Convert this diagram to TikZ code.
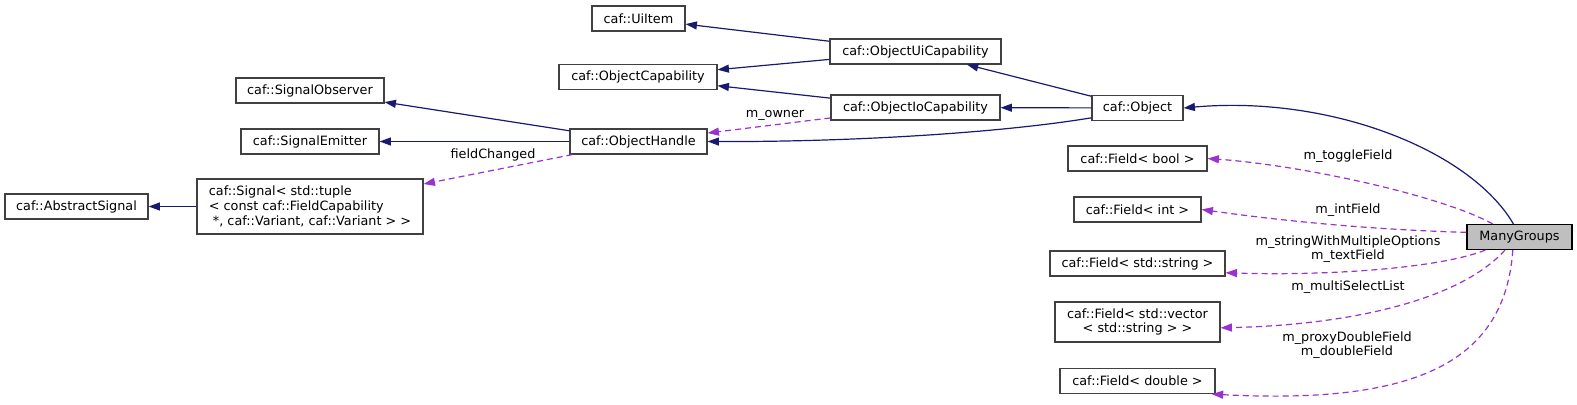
\documentclass[tikz,border=0pt]{standalone}
\usepackage{fontspec}
\setmainfont{DejaVu Sans}
\usetikzlibrary{arrows.meta}
\newcommand\pxu{0.75pt}
\definecolor{inhcol}{HTML}{191970}
\definecolor{usecol}{HTML}{9A32CD}
\definecolor{boxcol}{HTML}{404040}
\tikzset{
  cls/.style={draw=boxcol, line width=0.9pt, fill=white, font=\fontsize{9.6}{11}\selectfont,
    inner sep=0pt, minimum height=25*\pxu},
  inh/.style={draw=inhcol, line width=0.9pt, -{Triangle[length=8.5pt,width=6pt]}},
  use/.style={draw=usecol, line width=0.9pt, dash pattern=on 4.5pt off 3pt,
    -{Triangle[length=8.5pt,width=6pt]}},
  lbl/.style={font=\fontsize{9.6}{10.5}\selectfont, align=center, inner sep=0pt},
}

\begin{document}
\begin{tikzpicture}[x=\pxu, y=-\pxu]
  \useasboundingbox (0,0) rectangle (1577,404);
  \node[cls, minimum width=93*\pxu] (uiitem) at (638.5,18.5) {caf::UiItem};
  \node[cls, minimum width=171*\pxu] (oui) at (915.5,51.5) {caf::ObjectUiCapability};
  \node[cls, minimum width=158*\pxu] (ocap) at (638,77) {caf::ObjectCapability};
  \node[cls, minimum width=169*\pxu] (oio) at (915.5,107.5) {caf::ObjectIoCapability};
  \node[cls, minimum width=91*\pxu] (obj) at (1137.5,108) {caf::Object};
  \node[cls, minimum width=148*\pxu] (sobs) at (310,90.5) {caf::SignalObserver};
  \node[cls, minimum width=138*\pxu] (semit) at (310,141.5) {caf::SignalEmitter};
  \node[cls, minimum width=137*\pxu] (oh) at (638.5,141.5) {caf::ObjectHandle};
  \node[cls, minimum width=143*\pxu] (asig) at (76.5,206.5) {caf::AbstractSignal};
  \node[cls, minimum width=226*\pxu, minimum height=55*\pxu, align=left] (sig) at (310,206.5)
    {caf::Signal< std::tuple\\< const caf::FieldCapability\\{}\ *, caf::Variant, caf::Variant > >};
  \node[cls, minimum width=139*\pxu] (fbool) at (1137.5,158.5) {caf::Field< bool >};
  \node[cls, minimum width=127*\pxu] (fint) at (1137.5,209.5) {caf::Field< int >};
  \node[cls, minimum width=175*\pxu] (fstr) at (1137.5,263.5) {caf::Field< std::string >};
  \node[cls, minimum width=165*\pxu, minimum height=40*\pxu, align=center] (fvec) at (1137.5,322)
    {caf::Field< std::vector\\< std::string > >};
  \node[cls, minimum width=155*\pxu] (fdbl) at (1137.5,381) {caf::Field< double >};
  \node[cls, minimum width=105*\pxu, draw=black, fill=black!25] (mg) at (1519.5,237) {ManyGroups};

  \draw[inh] (oui) -- (uiitem);
  \draw[inh] (oui) -- (ocap);
  \draw[inh] (oio) -- (ocap);
  \draw[inh] (obj) -- (oui);
  \draw[inh] (obj) -- (oio);
  \draw[inh] (obj.192) .. controls (1000,133) and (850,142) .. (oh.east);
  \draw[use] (oio) -- (oh);
  \draw[inh] (oh) -- (sobs);
  \draw[inh] (oh) -- (semit);
  \draw[use] (oh) -- (sig);
  \draw[inh] (sig) -- (asig);
  \draw[inh] (mg.115) .. controls (1470,150) and (1330,95) .. (obj.east);
  \draw[use] (mg.154) .. controls (1440,195) and (1300,165) .. (fbool.east);
  \draw[use] (mg.175) .. controls (1380,230) and (1290,222) .. (fint.east);
  \draw[use] (mg.201) .. controls (1440,268) and (1330,276) .. (fstr.-6);
  \draw[use] (mg.222) .. controls (1460,300) and (1350,325) .. (fvec.-4);
  \draw[use] (mg.243) .. controls (1505,360) and (1420,405) .. (fdbl.-10);

  \node[lbl] (lowner) at (775,115) {m\_owner};
  \node[lbl] (lfield) at (493,155) {fieldChanged};
  \node[lbl] (ltoggle) at (1348,156) {m\_toggleField};
  \node[lbl] (lint) at (1348,210) {m\_intField};
  \node[lbl] (ltext) at (1348,249.5) {m\_stringWithMultipleOptions\\m\_textField};
  \node[lbl] (lmulti) at (1348,287) {m\_multiSelectList};
  \node[lbl] (ldbl) at (1347,345) {m\_proxyDoubleField\\m\_doubleField};
\end{tikzpicture}
\end{document}
